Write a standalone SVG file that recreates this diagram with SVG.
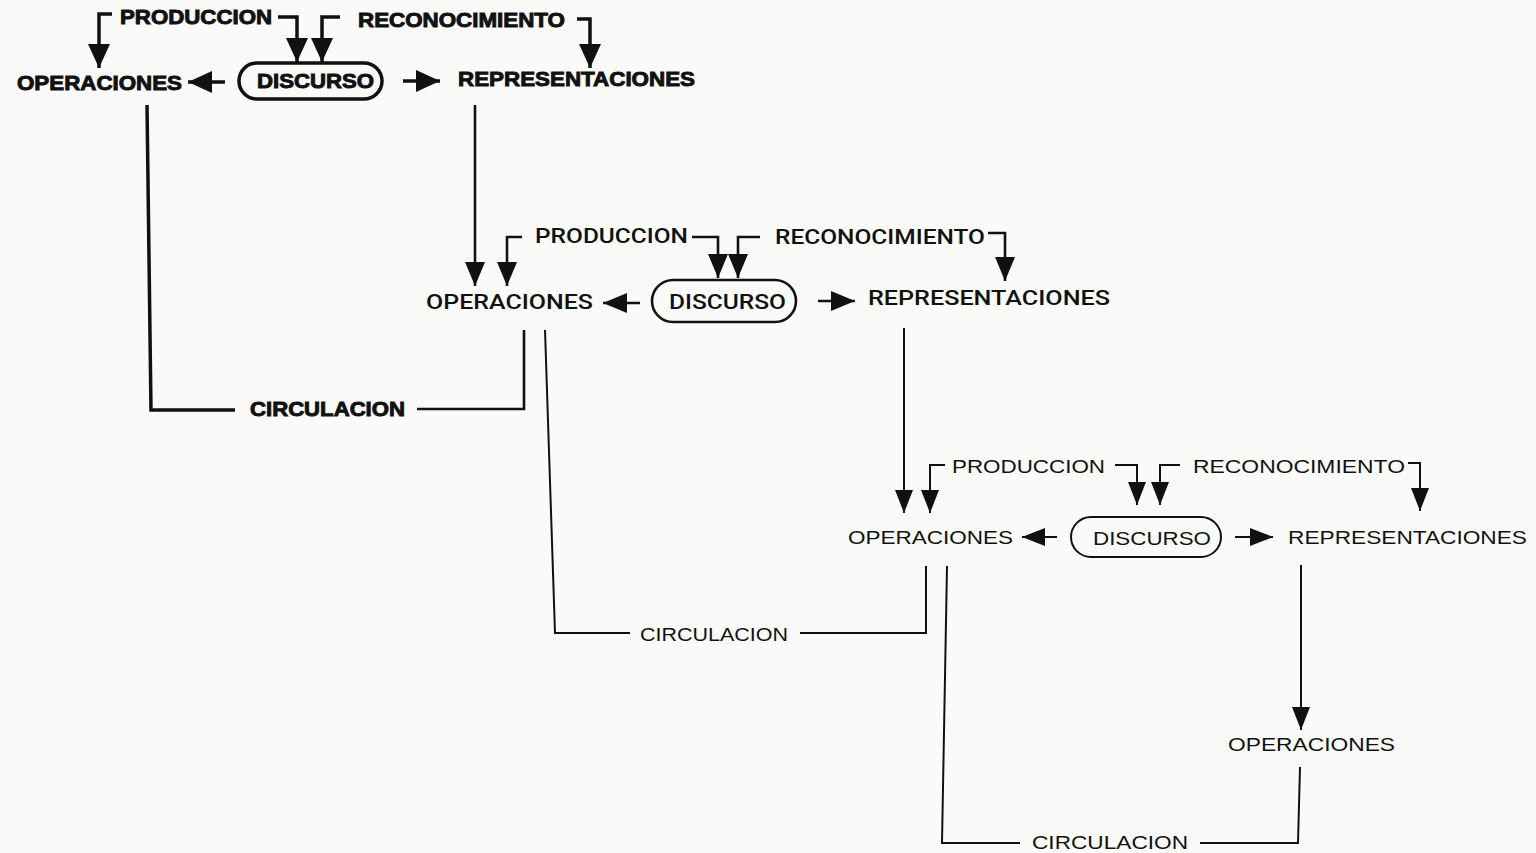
<svg xmlns="http://www.w3.org/2000/svg" width="1536" height="853" viewBox="0 0 1536 853">
<defs>
<marker id="a1" markerUnits="userSpaceOnUse" markerWidth="24" markerHeight="22" refX="24" refY="11" orient="auto"><path d="M0,0 L24,11 L0,22 z" fill="#111"/></marker>
<marker id="a2" markerUnits="userSpaceOnUse" markerWidth="24" markerHeight="20" refX="24" refY="10" orient="auto"><path d="M0,0 L24,10 L0,20 z" fill="#111"/></marker>
<marker id="a3" markerUnits="userSpaceOnUse" markerWidth="23" markerHeight="18" refX="23" refY="9" orient="auto"><path d="M0,0 L23,9 L0,18 z" fill="#111"/></marker>
</defs>
<style>
.bg{fill:#fafaf8}
text{fill:#111;font-family:"Liberation Sans",Arial,sans-serif}
.t1{font-size:20px;font-weight:bold;stroke:#111;stroke-width:0.9}
.t2{font-size:20px;font-family:Roboto,"Liberation Sans",sans-serif;font-weight:500}
.t3{font-size:18px;font-family:"Liberation Sans",Arial,sans-serif;font-weight:normal}
.l1{fill:none;stroke:#111;stroke-width:3.5}
.l2{fill:none;stroke:#111;stroke-width:2.6}
.l3{fill:none;stroke:#111;stroke-width:2}
.m1{marker-end:url(#a1)}
.m2{marker-end:url(#a2)}
.m3{marker-end:url(#a3)}
</style>
<rect class="bg" width="1536" height="853"/>

<g id="connectors">
<path class="l1 m1" d="M112,14 H99 V68"/>
<path class="l1 m1" d="M278,17 H297 V62"/>
<path class="l1 m1" d="M340,17 H322 V62"/>
<path class="l1 m1" d="M577,19 H590 V68"/>
<path class="l1 m1" d="M225,82 H188"/>
<path class="l1 m1" d="M403,81 H440"/>
<path class="l1" d="M147,105 L151,410 H235"/>
<path class="l2" d="M417,409 H524 V330"/>
<path class="l2 m2" d="M475,105 V286"/>
<path class="l2 m2" d="M522,237 H507 V286"/>
<path class="l2 m2" d="M692,237 H718 V278"/>
<path class="l2 m2" d="M760,237 H738 V278"/>
<path class="l2 m2" d="M988,233 H1005 V281"/>
<path class="l2 m2" d="M640,303 H603"/>
<path class="l2 m2" d="M818,301 H855"/>
<path class="l3" d="M545,330 L555,633 H630"/>
<path class="l3" d="M800,633 H926 V566"/>
<path class="l3 m3" d="M904,328 V513"/>
<path class="l3 m3" d="M945,465 H930 V513"/>
<path class="l3 m3" d="M1115,465 H1137 V505"/>
<path class="l3 m3" d="M1180,465 H1160 V505"/>
<path class="l3 m3" d="M1408,463 H1420 V511"/>
<path class="l3 m3" d="M1057,537 H1022"/>
<path class="l3 m3" d="M1235,537 H1273"/>
<path class="l3" d="M947,566 L942,843 H1020"/>
<path class="l3" d="M1200,843 H1298 L1300,767"/>
<path class="l3 m3" d="M1301,565 V730"/>
</g>

<g id="produccion1"><text class="t1" x="120" y="24" textLength="152" lengthAdjust="spacingAndGlyphs">PRODUCCION</text></g>
<g id="reconocimiento1"><text class="t1" x="358" y="27" textLength="207" lengthAdjust="spacingAndGlyphs">RECONOCIMIENTO</text></g>
<g id="operaciones1"><text class="t1" x="17" y="90" textLength="165" lengthAdjust="spacingAndGlyphs">OPERACIONES</text></g>
<g id="discurso1"><rect class="l1" x="239" y="63" width="143" height="36" rx="18"/><text class="t1" x="257" y="88" textLength="117" lengthAdjust="spacingAndGlyphs">DISCURSO</text></g>
<g id="representaciones1"><text class="t1" x="458" y="86" textLength="237" lengthAdjust="spacingAndGlyphs">REPRESENTACIONES</text></g>
<g id="circulacion1"><text class="t1" x="250" y="416" textLength="155" lengthAdjust="spacingAndGlyphs">CIRCULACION</text></g>

<g id="produccion2"><text class="t2" x="535" y="243" textLength="153" lengthAdjust="spacingAndGlyphs">PRODUCCION</text></g>
<g id="reconocimiento2"><text class="t2" x="775" y="244" textLength="210" lengthAdjust="spacingAndGlyphs">RECONOCIMIENTO</text></g>
<g id="operaciones2"><text class="t2" x="426" y="309" textLength="167" lengthAdjust="spacingAndGlyphs">OPERACIONES</text></g>
<g id="discurso2"><rect class="l2" x="652" y="280" width="144" height="42" rx="21"/><text class="t2" x="669" y="309" textLength="117" lengthAdjust="spacingAndGlyphs">DISCURSO</text></g>
<g id="representaciones2"><text class="t2" x="868" y="305" textLength="242" lengthAdjust="spacingAndGlyphs">REPRESENTACIONES</text></g>
<g id="circulacion2"><text class="t3" x="640" y="641" textLength="148" lengthAdjust="spacingAndGlyphs">CIRCULACION</text></g>

<g id="produccion3"><text class="t3" x="952" y="473" textLength="153" lengthAdjust="spacingAndGlyphs">PRODUCCION</text></g>
<g id="reconocimiento3"><text class="t3" x="1193" y="473" textLength="212" lengthAdjust="spacingAndGlyphs">RECONOCIMIENTO</text></g>
<g id="operaciones3"><text class="t3" x="848" y="544" textLength="165" lengthAdjust="spacingAndGlyphs">OPERACIONES</text></g>
<g id="discurso3"><rect class="l3" x="1071" y="517" width="150" height="40" rx="20"/><text class="t3" x="1093" y="545" textLength="118" lengthAdjust="spacingAndGlyphs">DISCURSO</text></g>
<g id="representaciones3"><text class="t3" x="1288" y="544" textLength="239" lengthAdjust="spacingAndGlyphs">REPRESENTACIONES</text></g>
<g id="operaciones4"><text class="t3" x="1228" y="751" textLength="167" lengthAdjust="spacingAndGlyphs">OPERACIONES</text></g>
<g id="circulacion3"><text class="t3" x="1032" y="849" textLength="156" lengthAdjust="spacingAndGlyphs">CIRCULACION</text></g>
</svg>
